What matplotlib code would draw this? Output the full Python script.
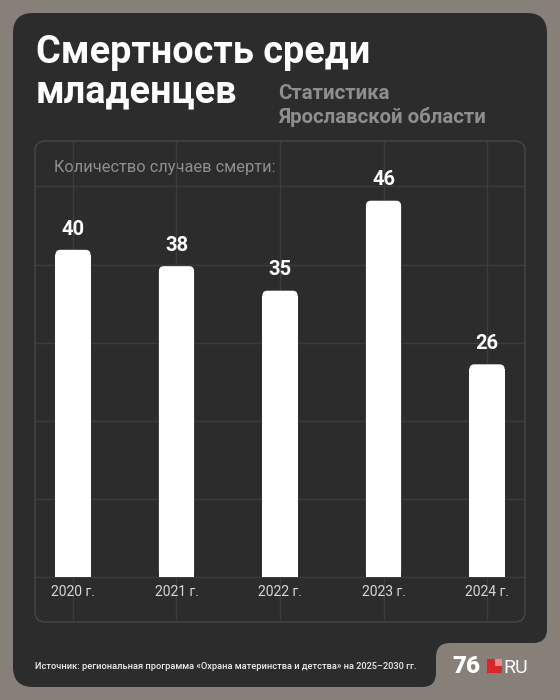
import numpy as np
import matplotlib
matplotlib.use('Agg')
import matplotlib.pyplot as plt
from matplotlib.patches import FancyBboxPatch, Rectangle, PathPatch
from matplotlib.path import Path

# Data
years = ['2020 г.', '2021 г.', '2022 г.', '2023 г.', '2024 г.']
deaths = [40, 38, 35, 46, 26]

title_lines = ['Смертность среди', 'младенцев']
subtitle_lines = ['Статистика', 'Ярославской области']
axis_note = 'Количество случаев смерти:'
source_note = 'Источник: региональная программа «Охрана материнства и детства» на 2025–2030 гг.'

# colours
bg_grey = '#878079'
card_c = '#2c2c2c'
panel_edge = '#474747'
grid_c = '#3c3c3c'
sub_c = '#8e8e8e'

plt.rcParams['font.family'] = ['Roboto', 'DejaVu Sans']

fig = plt.figure(figsize=(5.6, 7), dpi=100)
fig.patch.set_facecolor(bg_grey)

# background axes in pixel units (y down)
bg = fig.add_axes([0, 0, 1, 1])
bg.set_xlim(0, 560)
bg.set_ylim(700, 0)
bg.axis('off')


def card_path(l, t, r, b, nx, ny, R, rn):
    # dark card with a notch cut out at bottom right for the logo
    M, L, Q, C = Path.MOVETO, Path.LINETO, Path.CURVE3, Path.CLOSEPOLY
    verts = [(l + R, t), (r - R, t), (r, t), (r, t + R),
             (r, ny - rn), (r, ny), (r - rn, ny),
             (nx + rn, ny), (nx, ny), (nx, ny + rn),
             (nx, b - rn), (nx, b), (nx - rn, b),
             (l + R, b), (l, b), (l, b - R),
             (l, t + R), (l, t), (l + R, t), (l + R, t)]
    codes = [M, L, Q, Q, L, Q, Q, L, Q, Q, L, Q, Q, L, Q, Q, L, Q, Q, C]
    return Path(verts, codes)


bg.add_patch(PathPatch(card_path(13, 13, 547, 687, 436, 643, 20, 14),
                       fc=card_c, ec='none'))
bg.add_patch(FancyBboxPatch((35, 141), 490, 481,
                            boxstyle='round,pad=0,rounding_size=10',
                            fc='none', ec=panel_edge, lw=1))

# titles
for i, line in enumerate(title_lines):
    bg.text(36, 63 + 39 * i, line, fontsize=27.3, weight='bold',
            color='white', va='baseline')
for i, line in enumerate(subtitle_lines):
    bg.text(278, 99 + 24 * i, line, fontsize=14.7, weight='bold',
            color=sub_c, va='baseline')
bg.text(54, 172, axis_note, fontsize=11.8, color='#8f8f8f', va='baseline')
bg.text(35, 669, source_note, fontsize=6.7, weight='medium', color='#ededed',
        va='baseline')

# logo 76.RU
bg.text(452, 673, '76', fontsize=17.5, weight='black', color='white',
        va='baseline')
bg.add_patch(Rectangle((487, 659), 15, 14, fc='#d9262c', ec='none'))
bg.add_patch(Rectangle((494.5, 659), 7.5, 7, fc='#f08a86', ec='none'))
bg.text(503, 673, 'RU', fontsize=14, color='white', va='baseline')

# chart axes = inner panel
ax = fig.add_axes([35 / 560, (700 - 622) / 700, 490 / 560, 481 / 700])
ax.set_facecolor('none')
for s in ax.spines.values():
    s.set_visible(False)

x = np.arange(len(years))
ax.set_xlim(-0.367, len(years) - 1 + 0.367)
ax.set_ylim(-5.5, 53.3)

ax.set_xticks(x)
ax.set_yticks(np.arange(6) * 9.55)
ax.set_xticklabels([])
ax.set_yticklabels([])
ax.tick_params(length=0)
ax.grid(True, color=grid_c, lw=1)
ax.set_axisbelow(True)

bars = ax.bar(x, deaths, width=0.34, color='white')

# rounded tops
px_x = 490 / (ax.get_xlim()[1] - ax.get_xlim()[0])
px_y = 481 / (ax.get_ylim()[1] - ax.get_ylim()[0])
r_px = 5
for b in bars:
    bx, bw, bh = b.get_x(), b.get_width(), b.get_height()
    b.set_visible(False)
    ax.add_patch(FancyBboxPatch((bx, 0), bw, bh,
                                boxstyle='round,pad=0,rounding_size=%f' % (r_px / px_x),
                                mutation_aspect=px_x / px_y,
                                fc='white', ec='none'))
    ax.add_patch(Rectangle((bx, 0), bw, bh - r_px / px_y, fc='white', ec='none'))

for xi, v, lbl in zip(x, deaths, years):
    ax.annotate(str(v), (xi, v), xytext=(0, 11), textcoords='offset points',
                ha='center', va='baseline', fontsize=14.5, weight='bold',
                color='white')
    ax.annotate(lbl, (xi, 0), xytext=(0, -6), textcoords='offset points',
                ha='center', va='top', fontsize=10, color='#d8d8d8')

fig.savefig('out.png', dpi=100, facecolor=fig.get_facecolor())
